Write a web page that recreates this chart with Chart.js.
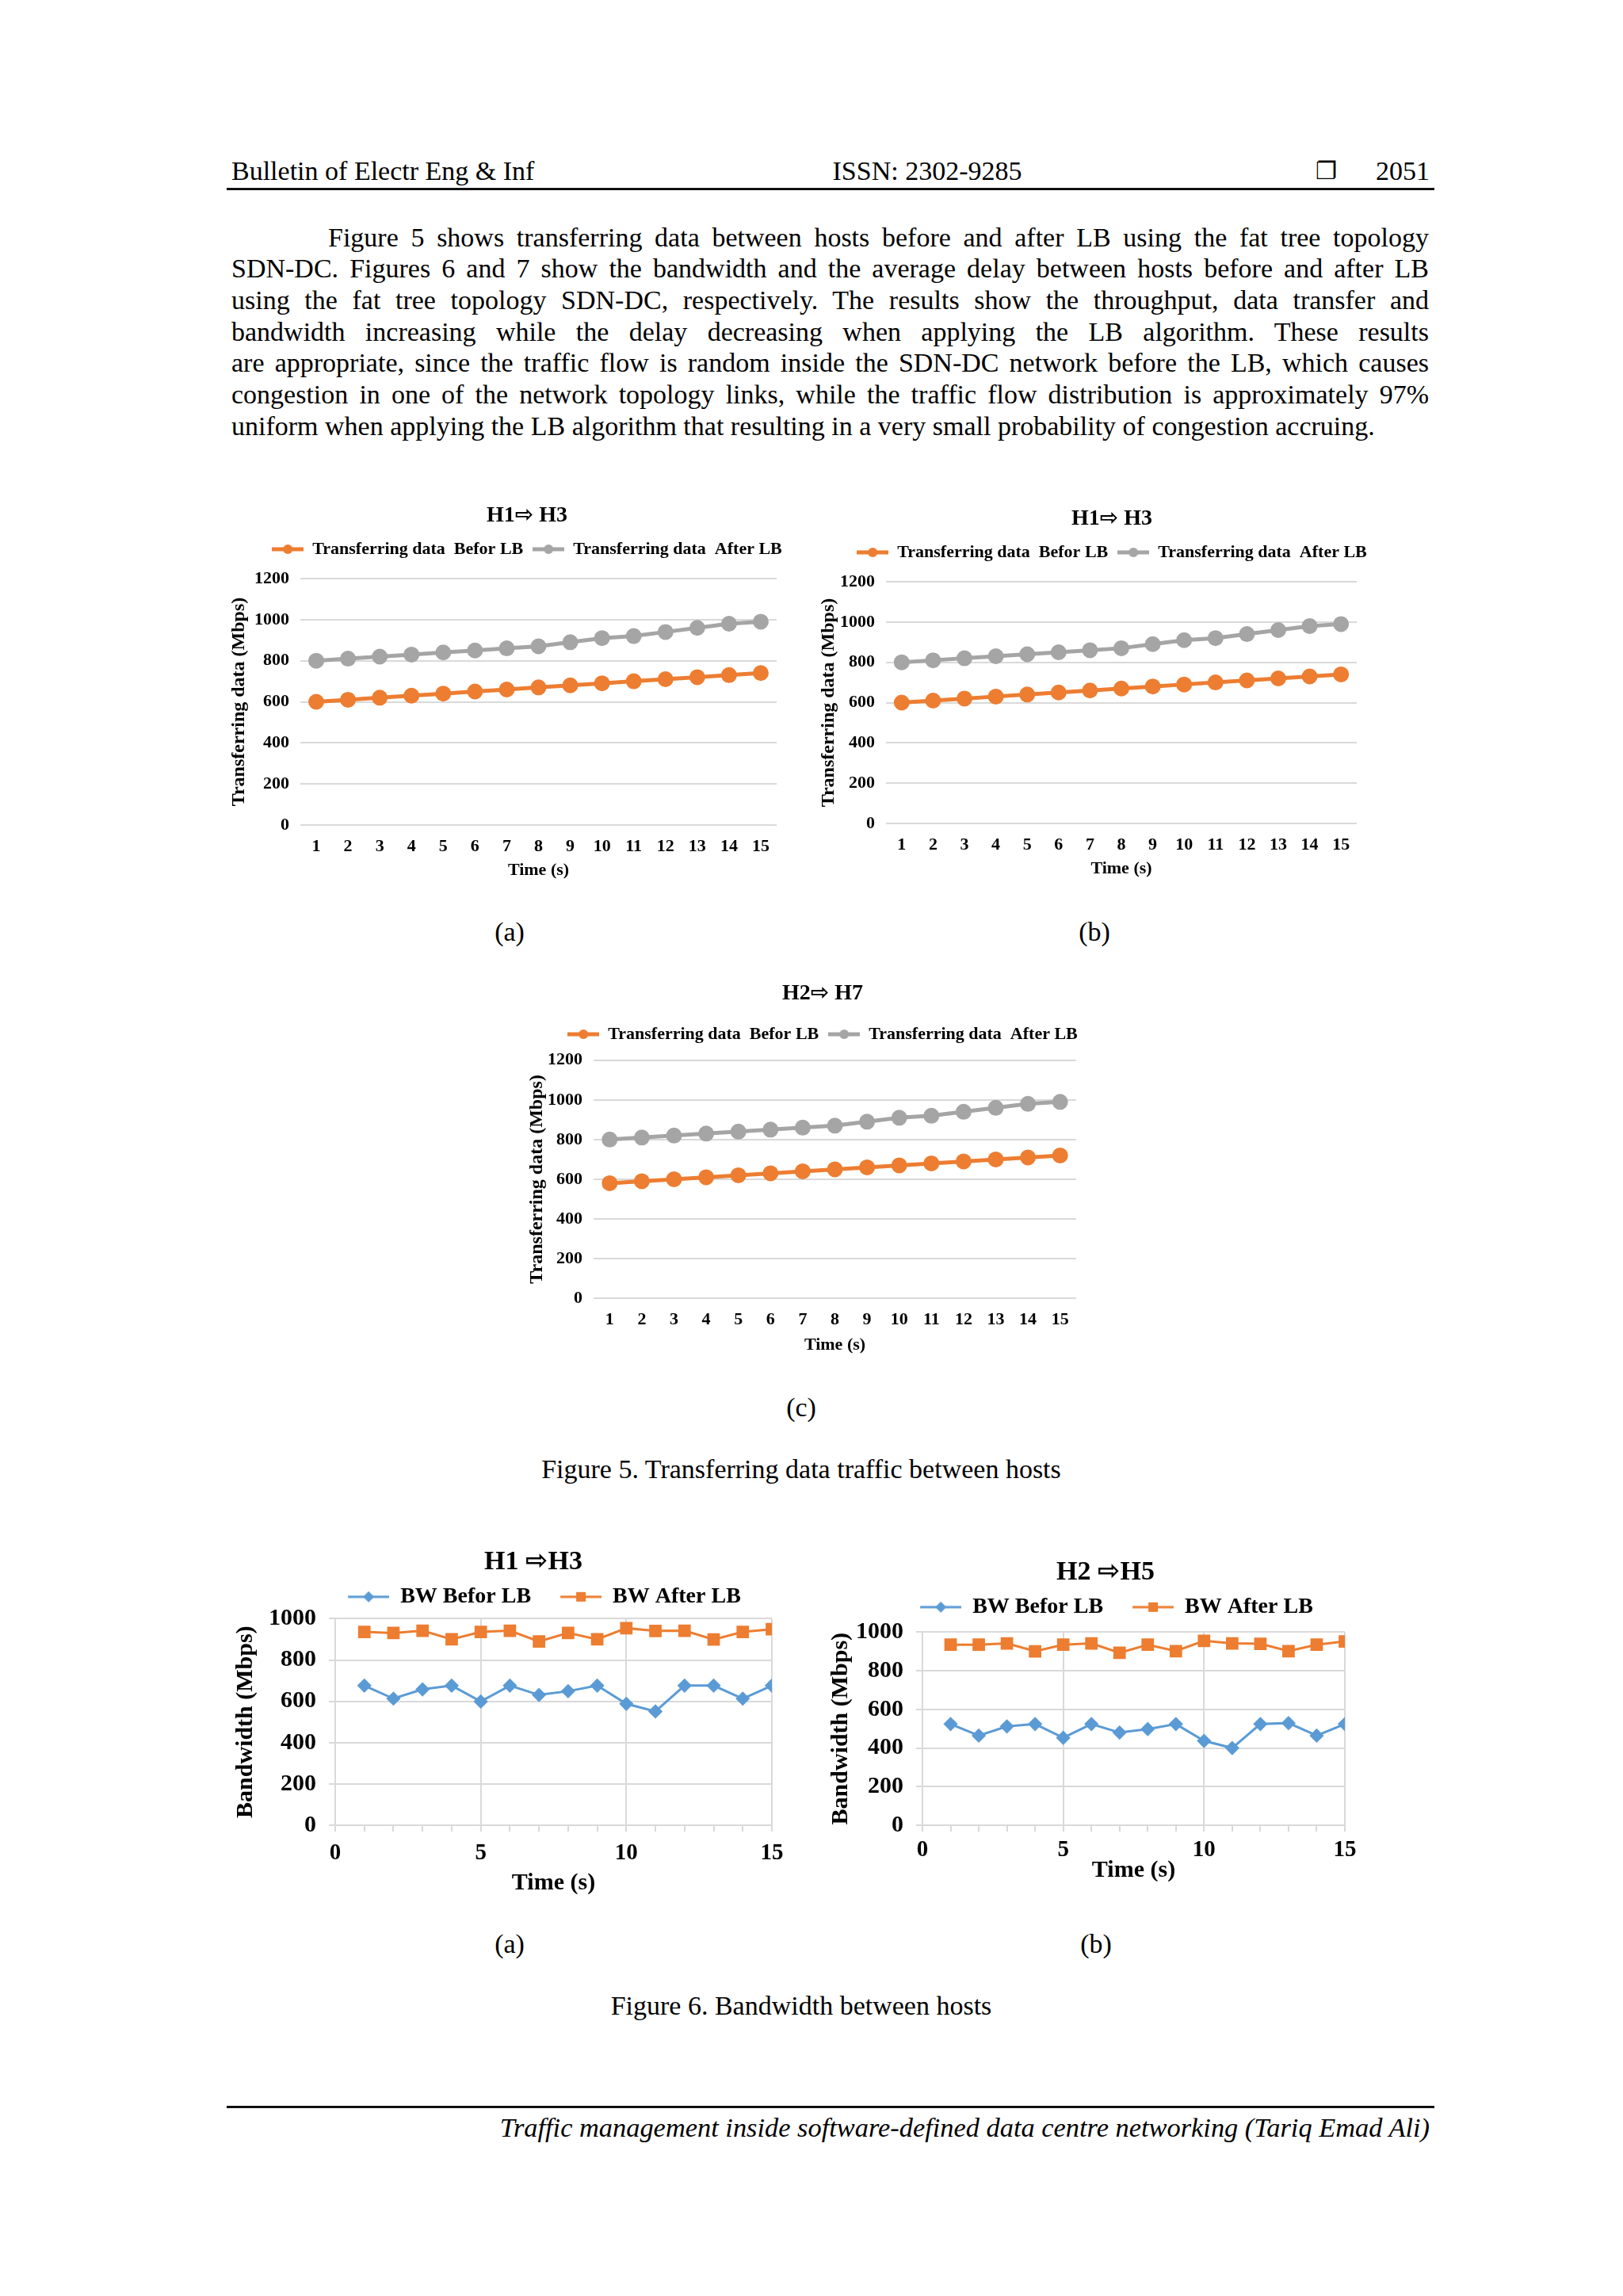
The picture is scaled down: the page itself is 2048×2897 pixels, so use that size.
<!DOCTYPE html>
<html>
<head>
<meta charset="utf-8">
<title>Traffic management inside SDN-DC</title>
<script src="https://cdn.jsdelivr.net/npm/chart.js@4.4.1/dist/chart.umd.min.js"></script>
<style>
  html, body { margin: 0; padding: 0; background: #fff; }
  #page { position: relative; width: 2048px; height: 2897px; overflow: hidden; background: #fff;
          font-family: "Liberation Serif", "Times New Roman", serif; color: #000; }
  .t { position: absolute; white-space: nowrap; font-size: 34px; line-height: 40px; }
  .c { transform: translateX(-50%); }
  .rule { position: absolute; left: 286px; width: 1524px; height: 3px; background: #111; }
  canvas { position: absolute; }
</style>
</head>
<body>
<div id="page">
  <div class="t" style="left:292px;top:196px;">Bulletin of Electr Eng &amp; Inf</div>
  <div class="t c" style="left:1170px;top:196px;">ISSN: 2302-9285</div>
  <div class="t" style="left:1660px;top:196px;font-family:'DejaVu Sans';font-size:30px;">&#x2750;</div>
  <div class="t" style="right:244px;top:196px;">2051</div>
  <div class="rule" style="top:237px;"></div>

  <div class="t jl" style="left:414px;top:279.5px;" data-w="1389">Figure 5 shows transferring data between hosts before and after LB using the fat tree topology</div>
  <div class="t jl" style="left:292px;top:319.2px;" data-w="1511">SDN-DC. Figures 6 and 7 show the bandwidth and the average delay between hosts before and after LB</div>
  <div class="t jl" style="left:292px;top:358.9px;" data-w="1511">using the fat tree topology SDN-DC, respectively. The results show the throughput, data transfer and</div>
  <div class="t jl" style="left:292px;top:398.6px;" data-w="1511">bandwidth increasing while the delay decreasing when applying the LB algorithm. These results</div>
  <div class="t jl" style="left:292px;top:438.3px;" data-w="1511">are appropriate, since the traffic flow is random inside the SDN-DC network before the LB, which causes</div>
  <div class="t jl" style="left:292px;top:478px;" data-w="1511">congestion in one of the network topology links, while the traffic flow distribution is approximately 97%</div>
  <div class="t" style="left:292px;top:517.7px;">uniform when applying the LB algorithm that resulting in a very small probability of congestion accruing.</div>

  <canvas id="fig5a" width="758" height="485" style="left:286px;top:630px;"></canvas>
  <canvas id="fig5b" width="756" height="479" style="left:1025px;top:634px;"></canvas>
  <canvas id="fig5c" width="764" height="479" style="left:656px;top:1233px;"></canvas>
  <div class="t c" style="left:643px;top:1156px;">(a)</div>
  <div class="t c" style="left:1381px;top:1156px;">(b)</div>
  <div class="t c" style="left:1011px;top:1756px;">(c)</div>
  <div class="t c" style="left:1011px;top:1834px;">Figure 5. Transferring data traffic between hosts</div>

  <canvas id="fig6a" width="774" height="455" style="left:286px;top:1948px;"></canvas>
  <canvas id="fig6b" width="720" height="422" style="left:1035px;top:1961px;"></canvas>
  <div class="t c" style="left:643px;top:2433px;">(a)</div>
  <div class="t c" style="left:1383px;top:2433px;">(b)</div>
  <div class="t c" style="left:1011px;top:2511px;">Figure 6. Bandwidth between hosts</div>

  <div class="rule" style="top:2657px;"></div>
  <div class="t" style="right:244px;top:2664px;font-style:italic;font-size:34.4px;">Traffic management inside software-defined data centre networking (Tariq Emad Ali)</div>
</div>
<script>
var FONT = '"Liberation Serif", "DejaVu Sans", serif';
var ORANGE = '#ED7D31';
var GRAY = '#A5A5A5';
var BLUE = '#5B9BD5';
var GRID = '#D9D9D9';

// Figure 5: transferring data (Mbps), one point per second
var timeLabels = ['1', '2', '3', '4', '5', '6', '7', '8', '9', '10', '11', '12', '13', '14', '15'];
var transferTicks = [0, 200, 400, 600, 800, 1000, 1200];
var h1h3Before = [600, 610, 620, 630, 640, 650, 660, 670, 680, 690, 700, 710, 720, 730, 740];
var h1h3After = [800, 810, 820, 830, 840, 850, 860, 870, 890, 910, 920, 940, 960, 980, 990];
var h2h7Before = [580, 590, 600, 610, 620, 630, 640, 650, 660, 670, 680, 690, 700, 710, 720];
var h2h7After = [800, 810, 820, 830, 840, 850, 860, 870, 890, 910, 920, 940, 960, 980, 990];

// Figure 6: bandwidth (Mbps)
var bwTime = [1, 2, 3, 4, 5, 6, 7, 8, 9, 10, 11, 12, 13, 14, 15];
var bwTicks = [0, 200, 400, 600, 800, 1000];
var bwTimeLabels = [0, 5, 10, 15];
var bwH1H3Before = [676, 613, 658, 676, 599, 676, 631, 649, 676, 588, 551, 676, 676, 613, 676];
var bwH1H3After = [936, 931, 942, 900, 936, 942, 890, 931, 900, 954, 941, 942, 899, 936, 949];
var bwH2H5Before = [524, 464, 512, 524, 453, 524, 480, 498, 524, 437, 400, 524, 529, 464, 524];
var bwH2H5After = [935, 935, 942, 901, 935, 942, 893, 935, 902, 955, 942, 940, 902, 935, 952];

function font(size) {
  return { family: FONT, size: size, weight: 'bold' };
}

// little "line with marker" picture, like the Excel legend keys
function legendIcon(color, shape, width, lineFrom, lineWidth, r) {
  var c = document.createElement('canvas');
  c.width = width;
  c.height = 2 * r + 4;
  var g = c.getContext('2d');
  var cy = c.height / 2;
  var cx = (lineFrom + width) / 2;
  g.strokeStyle = color;
  g.fillStyle = color;
  g.lineWidth = lineWidth;
  g.beginPath();
  g.moveTo(lineFrom, cy);
  g.lineTo(width, cy);
  g.stroke();
  g.beginPath();
  if (shape === 'circle') {
    g.arc(cx, cy, r, 0, Math.PI * 2);
  } else if (shape === 'rect') {
    g.rect(cx - r, cy - r, r * 2, r * 2);
  } else {
    g.moveTo(cx, cy - r);
    g.lineTo(cx + r, cy);
    g.lineTo(cx, cy + r);
    g.lineTo(cx - r, cy);
    g.closePath();
  }
  g.fill();
  return c;
}

function legendOptions(icons, size, padding, boxWidth) {
  return {
    position: 'top',
    labels: {
      usePointStyle: true,
      pointStyleWidth: boxWidth,
      padding: padding,
      color: '#000',
      font: font(size),
      generateLabels: function (chart) {
        var items = Chart.defaults.plugins.legend.labels.generateLabels(chart);
        items.forEach(function (item, i) { item.pointStyle = icons[i]; });
        return items;
      }
    }
  };
}

// empty axis used only to reserve room
function blankScale(axis, position, size) {
  return {
    type: 'linear',
    axis: axis,
    position: position,
    display: true,
    grid: { display: false, drawTicks: false },
    border: { display: false },
    ticks: { display: false },
    afterFit: function (s) {
      if (s.isHorizontal()) s.height = size; else s.width = size;
    }
  };
}

function tickList(list) {
  return function (s) {
    s.ticks = list.map(function (v) { return { value: v }; });
  };
}

function transferChart(id, title, before, after, lay) {
  var icons = [legendIcon(ORANGE, 'circle', 40, 0, 5, 6), legendIcon(GRAY, 'circle', 40, 0, 5, 6)];
  return new Chart(document.getElementById(id), {
    type: 'line',
    data: {
      labels: timeLabels,
      datasets: [{
        label: 'Transferring data  Befor LB',
        data: before,
        borderColor: ORANGE,
        backgroundColor: ORANGE,
        borderWidth: 5,
        pointRadius: 7.5,
        pointStyle: 'circle',
        xAxisID: 'x',
        yAxisID: 'y'
      }, {
        label: 'Transferring data  After LB',
        data: after,
        borderColor: GRAY,
        backgroundColor: GRAY,
        borderWidth: 5,
        pointRadius: 7.5,
        pointStyle: 'circle',
        xAxisID: 'x',
        yAxisID: 'y'
      }]
    },
    options: {
      responsive: false,
      animation: false,
      layout: { padding: 0 },
      plugins: {
        title: {
          display: true,
          text: title,
          color: '#000',
          font: font(28),
          padding: { top: 4, bottom: lay.titleBottom }
        },
        legend: legendOptions(icons, 22, 12, 40),
        tooltip: { enabled: false }
      },
      scales: {
        x: {
          type: 'category',
          offset: true,
          grid: { display: false, drawTicks: false },
          border: { display: false },
          ticks: { color: '#000', padding: 14, maxRotation: 0, autoSkip: false, font: font(22) },
          title: {
            display: true, text: 'Time (s)', color: '#000', font: font(22),
            padding: { top: 0, bottom: lay.timePad }
          },
          afterFit: function (s) { s.height = 74; }
        },
        y: {
          min: 0,
          max: 1200,
          afterBuildTicks: tickList(transferTicks),
          grid: { color: GRID, lineWidth: 2, drawTicks: false },
          border: { display: false },
          ticks: { color: '#000', padding: 14, font: font(22), callback: function (v) { return String(v); } },
          title: {
            display: true, text: 'Transferring data (Mbps)', color: '#000', font: font(24),
            padding: { top: lay.yTitlePad, bottom: 0 }
          },
          afterFit: function (s) { s.width = 93; }
        },
        spaceTop: blankScale('x', 'top', lay.spacer),
        spaceRight: blankScale('y', 'right', lay.right)
      }
    }
  });
}

function bandwidthChart(id, title, before, after, lay) {
  var icons = [legendIcon(BLUE, 'diamond', 80, 28, 3, 7), legendIcon(ORANGE, 'rect', 80, 28, 3, 6)];
  var points = function (vals) {
    return vals.map(function (v, i) { return { x: bwTime[i], y: v }; });
  };
  return new Chart(document.getElementById(id), {
    type: 'line',
    data: {
      datasets: [{
        label: 'BW Befor LB',
        data: points(before),
        borderColor: BLUE,
        backgroundColor: BLUE,
        borderWidth: 3,
        pointStyle: 'rectRot',
        pointRadius: 7,
        xAxisID: 'x',
        yAxisID: 'y'
      }, {
        label: 'BW After LB',
        data: points(after),
        borderColor: ORANGE,
        backgroundColor: ORANGE,
        borderWidth: 3,
        pointStyle: 'rect',
        pointRadius: 9,
        xAxisID: 'x',
        yAxisID: 'y'
      }]
    },
    options: {
      responsive: false,
      animation: false,
      layout: { padding: 0 },
      plugins: {
        title: {
          display: true,
          text: title,
          color: '#000',
          font: font(34),
          padding: { top: 3, bottom: 0 }
        },
        legend: legendOptions(icons, 28, 9, 80),
        tooltip: { enabled: false }
      },
      scales: {
        x: {
          type: 'linear',
          min: 0,
          max: 15,
          ticks: {
            stepSize: 1, autoSkip: false, maxRotation: 0, padding: lay.xPad, color: '#000', font: font(29),
            callback: function (v) { return bwTimeLabels.indexOf(v) >= 0 ? String(v) : ''; }
          },
          grid: {
            color: function (ctx) {
              return ctx.tick && bwTimeLabels.indexOf(ctx.tick.value) >= 0 ? GRID : 'rgba(0,0,0,0)';
            },
            tickColor: GRID,
            tickLength: 8,
            lineWidth: 2
          },
          border: { display: true, color: GRID, width: 2 },
          title: {
            display: true, text: 'Time (s)', color: '#000', font: font(30),
            padding: { top: 0, bottom: lay.timePad }
          },
          afterFit: function (s) { s.height = lay.bottom; }
        },
        y: {
          min: 0,
          max: 1000,
          afterBuildTicks: tickList(bwTicks),
          grid: { color: GRID, lineWidth: 2, tickLength: 8 },
          border: { display: true, color: GRID, width: 2 },
          ticks: { color: '#000', padding: 16, font: font(30), callback: function (v) { return String(v); } },
          title: {
            display: true, text: 'Bandwidth (Mbps)', color: '#000', font: font(30),
            padding: { top: lay.yTitlePad, bottom: 0 }
          },
          afterFit: function (s) { s.width = lay.left; }
        },
        spaceTop: blankScale('x', 'top', lay.spacer),
        spaceRight: blankScale('y', 'right', lay.right)
      }
    }
  });
}

// stretch word gaps so each paragraph line fills its measure, like the printed page
Array.prototype.forEach.call(document.querySelectorAll('.jl'), function (el) {
  var target = parseFloat(el.getAttribute('data-w'));
  var natural = el.getBoundingClientRect().width;
  var gaps = (el.textContent.match(/ /g) || []).length;
  if (gaps) el.style.wordSpacing = ((target - natural) / gaps) + 'px';
});

transferChart('fig5a', 'H1\u21E8 H3', h1h3Before, h1h3After,
  { titleBottom: 2.4, spacer: 16, right: 64, yTitlePad: 1, timePad: 3.8 });
transferChart('fig5b', 'H1\u21E8 H3', h1h3Before, h1h3After,
  { titleBottom: 2.4, spacer: 16, right: 69, yTitlePad: 6.6, timePad: 3.8 });
transferChart('fig5c', 'H2\u21E8 H7', h2h7Before, h2h7After,
  { titleBottom: 11.4, spacer: 11.8, right: 62, yTitlePad: 7.6, timePad: 1.8 });
bandwidthChart('fig6a', 'H1 \u21E8H3', bwH1H3Before, bwH1H3After,
  { spacer: 3.6, left: 137, right: 86, bottom: 100, xPad: 10, yTitlePad: 6, timePad: 9 });
bandwidthChart('fig6b', 'H2 \u21E8H5', bwH2H5Before, bwH2H5After,
  { spacer: 7.6, left: 129, right: 58, bottom: 80, xPad: 6, yTitlePad: 8, timePad: 5 });
</script>
</body>
</html>
